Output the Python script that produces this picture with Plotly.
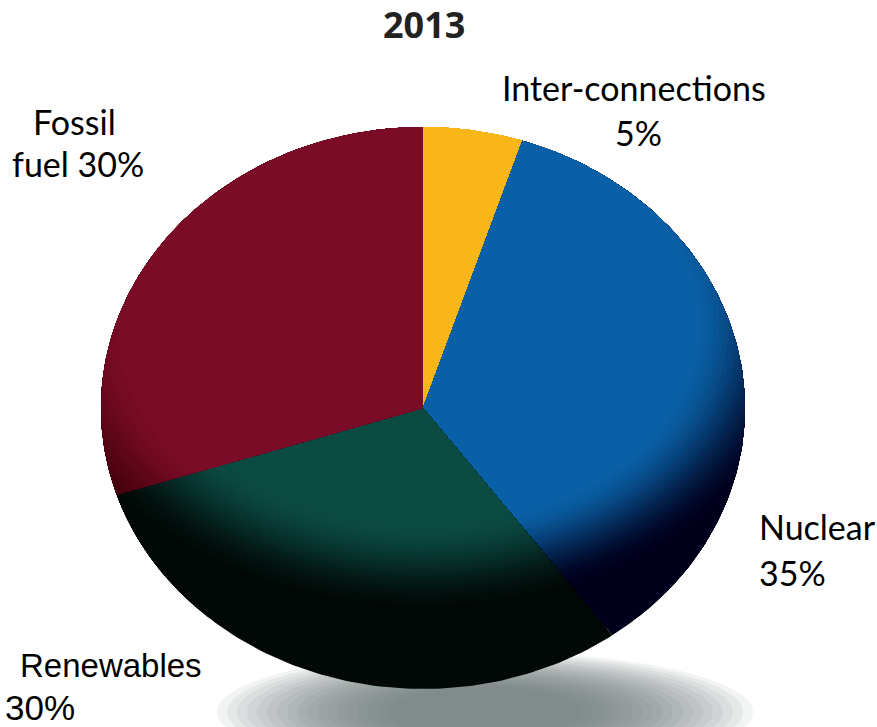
import numpy as np
import plotly.graph_objects as go

# ---------------- Data ----------------
categories = ["Inter-connections", "Nuclear", "Renewables", "Fossil fuel"]
values = [5, 35, 30, 30]
title_text = "2013"
label_lines = {
    "Inter-connections": ["Inter-connections", "5%"],
    "Nuclear": ["Nuclear", "35%"],
    "Renewables": ["Renewables", "30%"],
    "Fossil fuel": ["Fossil", "fuel 30%"],
}

# ---------------- Style ----------------
light_cols = ["#f8b619", "#0a60a6", "#0b4b42", "#7a0c27"]
dark_cols = ["#e09a0c", "#00001c", "#010806", "#3a0008"]
ramp = [(1.05, 1.35), (0.84, 1.20), (0.84, 1.22), (0.92, 1.28)]

W, H = 877, 727
cx, cy, A, B = 423, 408, 322, 281  # pixel centre and semi-axes of the tilted pie
light_c = (0.0, 0.30)              # centre of the lit area in unit-disc coords
light_r = (1.0, 0.85)


def hex2rgb(h):
    h = h.lstrip("#")
    return np.array([int(h[i:i + 2], 16) for i in (0, 2, 4)], float)


def mix(c1, c2, f):
    c = hex2rgb(c1) * (1 - f) + hex2rgb(c2) * f
    return "rgb(%d,%d,%d)" % tuple(np.round(c).astype(int))


def wedge(phi0, phi1, D, n=120):
    phi = np.linspace(phi0, phi1, n)
    dx, dy = np.sin(phi), np.cos(phi)
    Ax, By = D * light_r[0], D * light_r[1]
    alpha = dx ** 2 / Ax ** 2 + dy ** 2 / By ** 2
    beta = light_c[1] * dy / By ** 2
    gamma = light_c[1] ** 2 / By ** 2 - 1
    t = (beta + np.sqrt(np.maximum(beta ** 2 - alpha * gamma, 0))) / alpha
    r = np.minimum(1.0, t)
    xs = np.concatenate([[cx], cx + A * r * dx, [cx]])
    ys = np.concatenate([[cy], cy - B * r * dy, [cy]])
    return xs, ys


fig = go.Figure()

# soft shadow under the pie
n_sh = 18
for k in range(n_sh):
    f = k / (n_sh - 1)
    rx = 268 - 170 * f
    ry = 60 - 35 * f
    fig.add_shape(type="circle", xref="x", yref="y", layer="below",
                  x0=485 - rx, x1=485 + rx, y0=712 - ry, y1=712 + ry,
                  fillcolor="rgba(110,112,118,0.085)", line=dict(width=0))

total = float(sum(values))
cum = np.concatenate([[0], np.cumsum(values)]) / total * 2 * np.pi
levels = np.concatenate([[2.5], np.arange(1.40, 0.70, -0.015)])
for i, cat in enumerate(categories):
    p0, p1 = cum[i], cum[i + 1]
    s, e = ramp[i]
    for j, D in enumerate(levels):
        f = np.clip((D - s) / (e - s), 0, 1)
        f = f * f * (3 - 2 * f)
        xs, ys = wedge(p0, p1, D)
        fig.add_trace(go.Scatter(
            x=xs, y=ys, mode="lines", fill="toself",
            fillcolor=mix(light_cols[i], dark_cols[i], f),
            line=dict(width=0), showlegend=False, name=cat,
            hoverinfo="name" if j == len(levels) - 1 else "skip",
        ))

fig.update_layout(
    width=W, height=H, margin=dict(l=0, r=0, t=0, b=0),
    paper_bgcolor="white", plot_bgcolor="white",
    xaxis=dict(range=[0, W], visible=False, fixedrange=True),
    yaxis=dict(range=[H, 0], visible=False, fixedrange=True),
)

lato = "Lato, Open Sans, sans-serif"
narrow = "Liberation Sans Narrow, Arial Narrow, sans-serif"
annos = [
    (title_text, 424, 24, "center", dict(family="Open Sans, sans-serif", size=36, color="#222222"), True),
    (label_lines["Fossil fuel"][0], 74, 121, "center", dict(family=lato, size=34, color="black"), False),
    (label_lines["Fossil fuel"][1], 78, 163, "center", dict(family=lato, size=34, color="black"), False),
    (label_lines["Inter-connections"][0], 634, 87, "center", dict(family=lato, size=34, color="black"), False),
    (label_lines["Inter-connections"][1], 638, 132, "center", dict(family=lato, size=34, color="black"), False),
    (label_lines["Nuclear"][0], 757, 526, "left", dict(family=lato, size=34, color="black"), False),
    (label_lines["Nuclear"][1], 757, 572, "left", dict(family=lato, size=34, color="black"), False),
    (label_lines["Renewables"][0], 18, 665, "left", dict(family=narrow, size=33, color="black"), False),
    (label_lines["Renewables"][1], 3, 707, "left", dict(family=narrow, size=35, color="black"), False),
]
for text, x, y, xa, font, bold in annos:
    fig.add_annotation(text="<b>%s</b>" % text if bold else text, x=x, y=y, xref="x", yref="y",
                       xanchor=xa, yanchor="middle", showarrow=False, font=font)

fig.write_html("out.html")
